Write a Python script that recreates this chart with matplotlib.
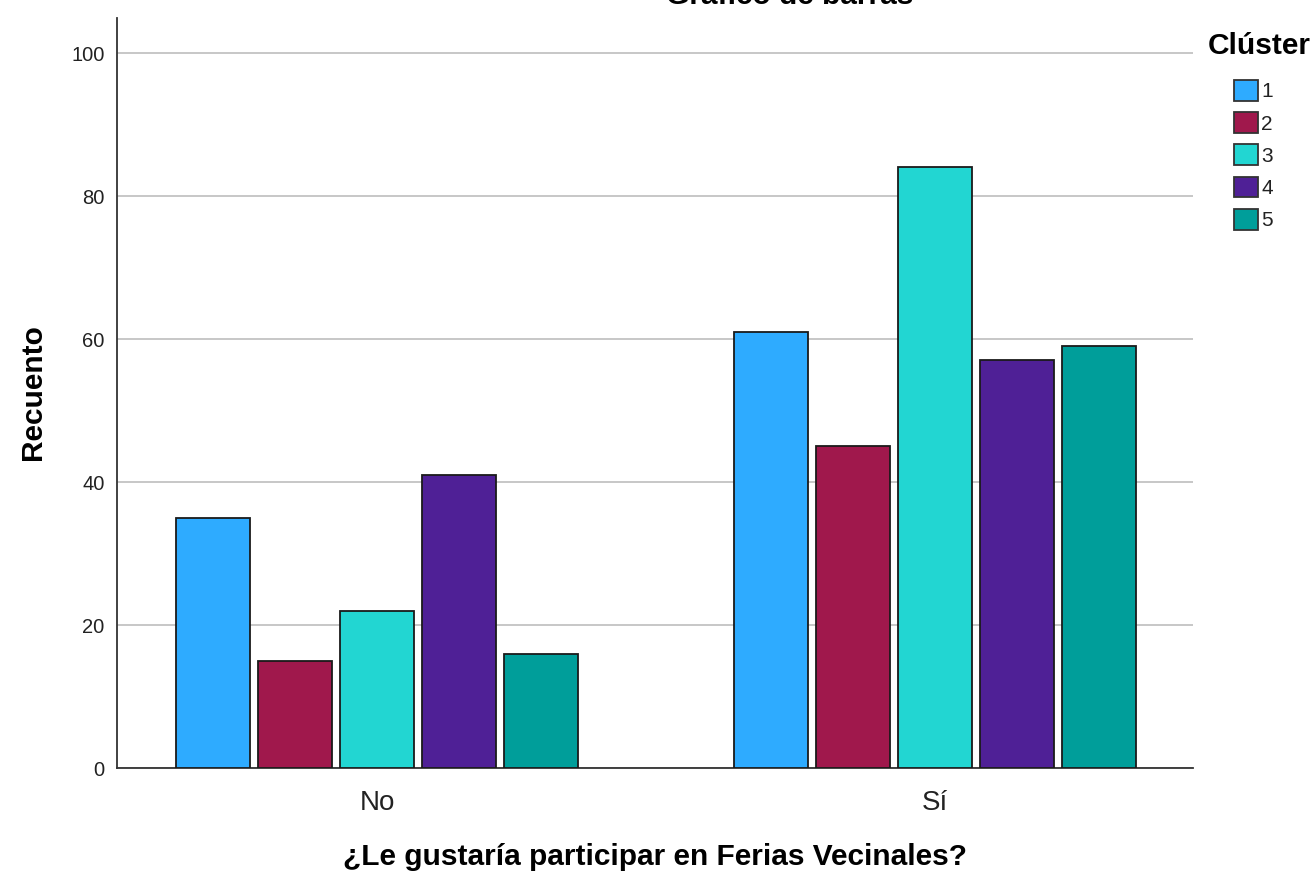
import matplotlib
matplotlib.use("Agg")
import matplotlib.pyplot as plt
import numpy as np

categories = ["No", "Sí"]
clusters = ["1", "2", "3", "4", "5"]
counts = {
    "1": [35, 61],
    "2": [15, 45],
    "3": [22, 84],
    "4": [41, 57],
    "5": [16, 59],
}
colors = ["#2EABFF", "#A0184C", "#22D6D2", "#4F2096", "#009E9A"]
yticks = [0, 20, 40, 60, 80, 100]

plt.rcParams['font.family'] = ['Liberation Sans', 'DejaVu Sans']

W, H = 1316, 874
fig = plt.figure(figsize=(W/100, H/100), dpi=100)
ax = fig.add_axes([117/W, 1 - 768/H, (1193-117)/W, (768-18)/H])

x = np.arange(len(categories))
step = 0.147
width = 0.1326
for i, c in enumerate(clusters):
    ax.bar(x + (i - 2) * step, counts[c], width, color=colors[i],
           edgecolor="#1a1a1a", linewidth=1.3, label=c, zorder=3)

ax.set_xlim(-0.466, 1.462)
ax.set_ylim(0, 104.9)
ax.set_yticks(yticks)
ax.set_yticklabels([str(t) for t in yticks], fontsize=14.5, color="#222222")
ax.set_xticks(x)
ax.set_xticklabels(categories, fontsize=20, color="#222222")
ax.tick_params(axis="x", length=0, pad=16)
ax.tick_params(axis="y", length=0, pad=9)
ax.yaxis.grid(True, color="#BDBDBD", linewidth=1.2, zorder=0)
ax.spines["top"].set_visible(False)
ax.spines["right"].set_visible(False)
ax.spines["left"].set_color("#333333")
ax.spines["bottom"].set_color("#333333")
ax.spines["left"].set_linewidth(1.3)
ax.spines["bottom"].set_linewidth(1.3)

fig.text(33/W, 1 - 392/H, "Recuento", fontsize=21.5, fontweight="bold",
         rotation=90, ha="center", va="center")
fig.text(655/W, 1 - 857/H, "¿Le gustaría participar en Ferias Vecinales?",
         fontsize=21.5, fontweight="bold", ha="center", va="center")
fig.text(790/W, 1 - 4/H, "Gráfico de barras", fontsize=21.5,
         fontweight="bold", ha="center", va="baseline")
fig.text(1208/W, 1 - 46/H, "Clúster", fontsize=21.5, fontweight="bold",
         ha="left", va="center")

leg = fig.legend(*ax.get_legend_handles_labels(), loc="upper left",
                 bbox_to_anchor=(1234/W, 1 - 80/H), bbox_transform=fig.transFigure,
                 frameon=False, fontsize=15,
                 handlelength=1.15, handleheight=1.15, handletextpad=0.15,
                 labelspacing=0.52, borderaxespad=0, borderpad=0)
for h in leg.legend_handles:
    h.set_edgecolor("#333333")
for t in leg.get_texts():
    t.set_color("#222222")

fig.savefig("out.png", dpi=100)
